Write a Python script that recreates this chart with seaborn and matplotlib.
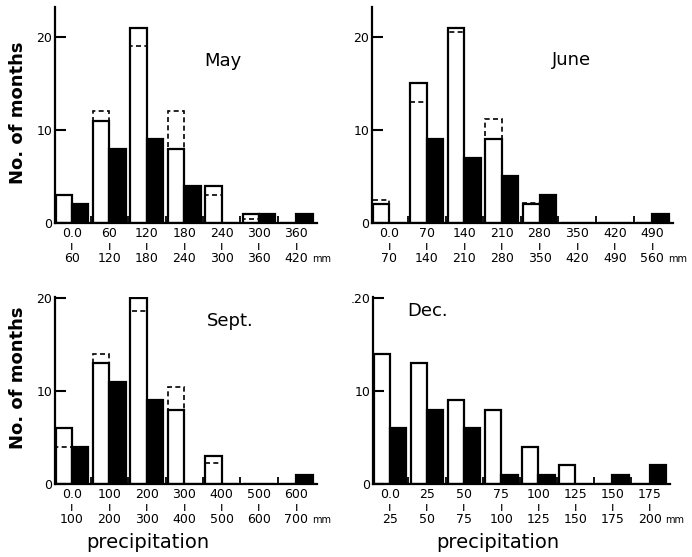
import numpy as np
import pandas as pd
import matplotlib
matplotlib.use("Agg")
import matplotlib.pyplot as plt
import seaborn as sns

nan = np.nan

# May, 60 mm classes
may_lo = ["0.0", "60", "120", "180", "240", "300", "360"]
may_hi = ["60", "120", "180", "240", "300", "360", "420"]
may_white = [3, 11, 21, 8, 4, 1, 0]
may_black = [2, 8, 9, 4, 0, 1, 1]
may_dashed = [nan, 12, 19, 12, 3, 0.4, nan]

# June, 70 mm classes
june_lo = ["0.0", "70", "140", "210", "280", "350", "420", "490"]
june_hi = ["70", "140", "210", "280", "350", "420", "490", "560"]
june_white = [2, 15, 21, 9, 2, 0, 0, 0]
june_black = [0, 9, 7, 5, 3, 0, 0, 1]
june_dashed = [2.5, 13, 20.5, 11.2, 2.2, nan, nan, nan]

# Sept, 100 mm classes
sept_lo = ["0.0", "100", "200", "300", "400", "500", "600"]
sept_hi = ["100", "200", "300", "400", "500", "600", "700"]
sept_white = [6, 13, 20, 8, 3, 0, 0]
sept_black = [4, 11, 9, 0, 0, 0, 1]
sept_dashed = [4, 14, 18.6, 10.4, 2.3, nan, nan]

# Dec, 25 mm classes
dec_lo = ["0.0", "25", "50", "75", "100", "125", "150", "175"]
dec_hi = ["25", "50", "75", "100", "125", "150", "175", "200"]
dec_white = [14, 13, 9, 8, 4, 2, 0, 0]
dec_black = [6, 8, 6, 1, 1, 0, 1, 2]
dec_dashed = [nan] * 8

fig = plt.figure(figsize=(6.92, 5.57), dpi=100)

BAR_W = 0.88


def panel(rect, lo, hi, white, black, dashed, ymax, ylabels, title, txy):
    ax = fig.add_axes(rect)
    n = len(lo)
    cats = [a + "-" + b for a, b in zip(lo, hi)]
    df = pd.DataFrame({
        "bin": cats * 2,
        "kind": ["white"] * n + ["black"] * n,
        "count": list(white) + list(black),
    })
    sns.barplot(data=df, x="bin", y="count", hue="kind", order=cats,
                hue_order=["white", "black"],
                palette={"white": "white", "black": "black"},
                edgecolor="black", linewidth=1.6, width=BAR_W, gap=0,
                legend=False, ax=ax)
    # dashed outline of the alternative count
    d = np.array(dashed, dtype=float)
    ok = ~np.isnan(d)
    xs = np.arange(n)[ok] - BAR_W / 4
    ax.bar(xs, d[ok], width=BAR_W / 2, fill=False, edgecolor="black",
           linestyle=(0, (3, 2)), linewidth=1.2)

    ax.set_xlim(-0.455, n - 1 + 0.55)
    ax.set_ylim(0, ymax)
    ax.set_xticks(range(n))
    ax.set_xticklabels([a + "\nı\n" + b for a, b in zip(lo, hi)],
                       fontsize=9, linespacing=0.95)
    ax.set_xticks(np.arange(n - 1) + 0.5, minor=True)
    ax.tick_params(axis="x", which="major", length=0, pad=3)
    ax.tick_params(axis="x", which="minor", direction="in", length=5, width=1.3)
    ax.set_yticks([0, 10, 20])
    ax.set_yticklabels(ylabels, fontsize=9)
    ax.tick_params(axis="y", direction="in", length=8, width=1.5, pad=2)
    for s in ["top", "right"]:
        ax.spines[s].set_visible(False)
    for s in ["left", "bottom"]:
        ax.spines[s].set_linewidth(1.6)
    ax.set_xlabel("")
    ax.set_ylabel("")
    ax.text(txy[0], txy[1], title, transform=ax.transAxes, fontsize=13,
            ha="center", va="center")
    ax.annotate("mm", xy=(n - 1, 0), xycoords=("data", "axes fraction"),
                xytext=(11, -26), textcoords="offset points",
                fontsize=7, ha="left", va="center")
    return ax


panel([0.0795, 0.5996, 0.3786, 0.3878], may_lo, may_hi, may_white,
      may_black, may_dashed, 23.2, ["0", "10", "20"], "May", (0.64, 0.75))
panel([0.5376, 0.5996, 0.4350, 0.3878], june_lo, june_hi, june_white,
      june_black, june_dashed, 23.2, ["0", "10", "20"], "June", (0.664, 0.755))
panel([0.0795, 0.1311, 0.3786, 0.3357], sept_lo, sept_hi, sept_white,
      sept_black, sept_dashed, 20.1, ["0", "10", "20"], "Sept.", (0.668, 0.872))
panel([0.5390, 0.1311, 0.4292, 0.3357], dec_lo, dec_hi, dec_white,
      dec_black, dec_dashed, 20.1, ["0", "10", ".20"], "Dec.", (0.185, 0.925))

for yc in [113, 378]:
    fig.text(18 / 692, 1 - yc / 557, "No. of months", rotation=90,
             fontsize=13, fontweight="bold", ha="center", va="center")
for xc in [148, 498]:
    fig.text(xc / 692, 1 - 543 / 557, "precipitation", fontsize=14,
             ha="center", va="center")

fig.savefig("out.png", dpi=100)
plt.close(fig)
